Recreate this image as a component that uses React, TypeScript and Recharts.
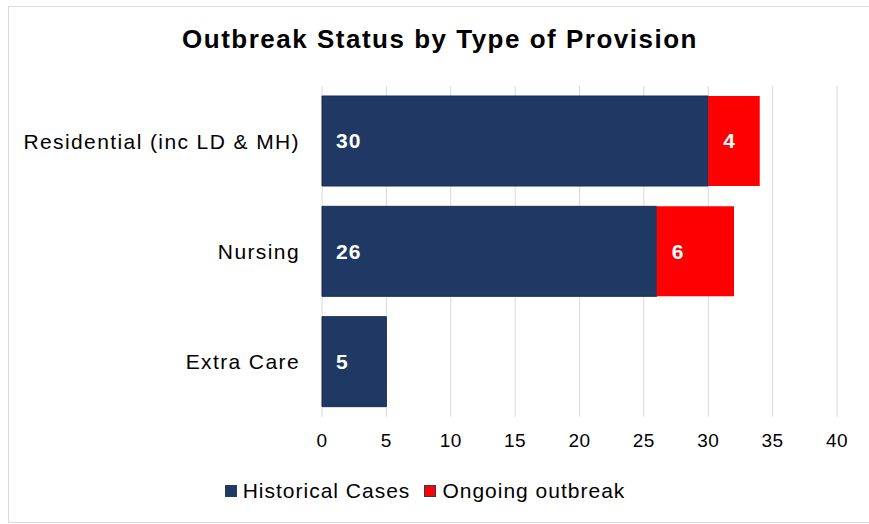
import { BarChart, Bar, XAxis, YAxis, CartesianGrid, Legend, LabelList } from 'recharts';

const categories = ['Residential (inc LD & MH)', 'Nursing', 'Extra Care'];
const historicalCases = [30, 26, 5];
const ongoingOutbreak = [4, 6, 0];
const xTicks = [0, 5, 10, 15, 20, 25, 30, 35, 40];

const NAVY = '#1F3864';
const RED = '#FF0000';
const FONT = '"Liberation Sans", Arial, sans-serif';

const data = categories.map((name, i) => ({
  name,
  historical: historicalCases[i],
  ongoing: ongoingOutbreak[i],
}));

const legendItems = [
  { label: 'Historical Cases', color: NAVY },
  { label: 'Ongoing outbreak', color: RED },
];

// legend height is fixed so the plot offset it adds stays predictable
const LEGEND_H = 30;

const LegendContent = () => (
  <div
    style={{
      height: LEGEND_H,
      display: 'flex',
      justifyContent: 'center',
      alignItems: 'center',
      fontFamily: FONT,
      fontSize: 21,
      letterSpacing: 1.0,
      color: '#000',
    }}
  >
    {legendItems.map((item, i) => (
      <div key={item.label} style={{ display: 'flex', alignItems: 'center', marginRight: i === 0 ? 14 : 0 }}>
        <span style={{ width: 12, height: 12, background: item.color, border: '1px solid #2a3a6a', marginRight: 6, boxSizing: 'border-box' }} />
        <span>{item.label}</span>
      </div>
    ))}
  </div>
);

const hideZero = (v: any) => (v ? v : '');

export default function App() {
  return (
    <div style={{ position: 'absolute', left: 0, top: 0, width: 869, height: 524, background: '#fff', fontFamily: FONT }}>
      <div
        style={{
          position: 'absolute',
          left: 8,
          top: 6,
          width: 870,
          height: 515,
          borderLeft: '1px solid #d9d9d9',
          borderTop: '1px solid #d9d9d9',
          borderBottom: '1px solid #d9d9d9',
        }}
      />
      <div
        style={{
          position: 'absolute',
          top: 24,
          left: 0,
          width: 880,
          textAlign: 'center',
          fontSize: 26,
          letterSpacing: 1.5,
          fontWeight: 'bold',
          color: '#000',
        }}
      >
        Outbreak Status by Type of Provision
      </div>
      <BarChart
        width={869}
        height={524}
        data={data}
        layout="vertical"
        margin={{ top: 86, right: 32, left: 0, bottom: 107 - LEGEND_H }}
        style={{ position: 'absolute', left: 0, top: 0 }}
      >
        <CartesianGrid horizontal={false} stroke="#d9d9d9" />
        <XAxis
          type="number"
          domain={[0, 40]}
          ticks={xTicks}
          axisLine={false}
          tickLine={false}
          tickMargin={11}
          tick={{ fill: '#000', fontSize: 19, letterSpacing: 0.5, fontFamily: FONT }}
        />
        <YAxis
          type="category"
          dataKey="name"
          width={322}
          axisLine={false}
          tickLine={false}
          tickMargin={16}
          tick={{ fill: '#000', fontSize: 21, letterSpacing: 1.4, fontFamily: FONT }}
        />
        <Legend
          verticalAlign="middle"
          align="center"
          content={<LegendContent />}
          wrapperStyle={{ position: 'absolute', top: 476, left: 0, width: 850 }}
        />
        <Bar dataKey="historical" stackId="a" fill={NAVY} stroke="#1a2f56" barSize={90} isAnimationActive={false}>
          <LabelList dataKey="historical" position="insideLeft" offset={14} fill="#fff" fontSize={21} fontWeight="bold" letterSpacing={1} fontFamily={FONT} formatter={hideZero} />
        </Bar>
        <Bar dataKey="ongoing" stackId="a" fill={RED} barSize={90} isAnimationActive={false}>
          <LabelList dataKey="ongoing" position="insideLeft" offset={15} fill="#fff" fontSize={21} fontWeight="bold" letterSpacing={1} fontFamily={FONT} formatter={hideZero} />
        </Bar>
      </BarChart>
    </div>
  );
}
